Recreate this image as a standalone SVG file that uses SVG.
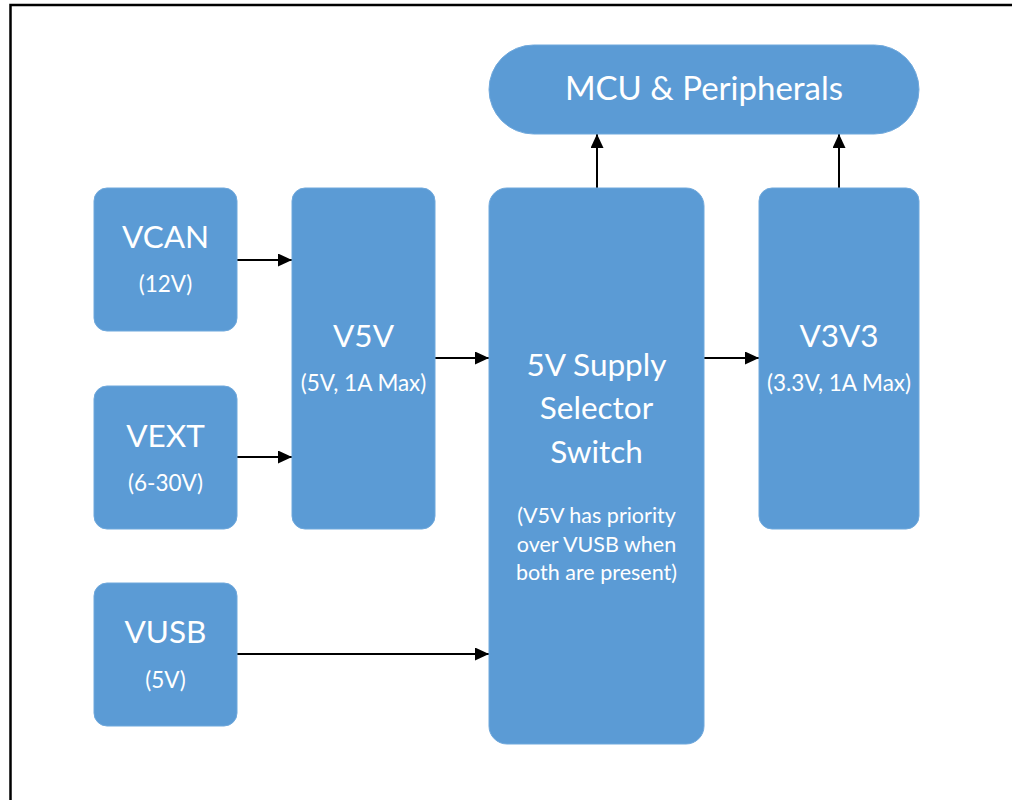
<svg xmlns="http://www.w3.org/2000/svg" width="1012" height="800" viewBox="0 0 1012 800">
<defs>
<marker id="ah" markerUnits="userSpaceOnUse" markerWidth="14" markerHeight="13" refX="14" refY="6.5" orient="auto">
<path d="M0,0 L14,6.5 L0,13 z" fill="#000"/>
</marker>
</defs>
<style>
.box{fill:#5B9BD5;stroke:#6FA8DC;stroke-width:1}
.t{font-family:Lato,"Open Sans",sans-serif;fill:#fff;text-anchor:middle}
.big{font-size:31.5px}
.mcu{font-size:33px}
.sm{font-size:22.5px}
.pr{font-size:21.5px}
.c{stroke:#000;stroke-width:2;fill:none;marker-end:url(#ah)}
</style>
<rect width="1012" height="800" fill="#fff"/>
<path d="M10.5,800 V5 H1012" fill="none" stroke="#000" stroke-width="2.5"/>
<g id="connectors">
<line class="c" x1="237" y1="260" x2="292" y2="260"/>
<line class="c" x1="237" y1="457" x2="292" y2="457"/>
<line class="c" x1="435" y1="358" x2="489" y2="358"/>
<line class="c" x1="237" y1="654" x2="489" y2="654"/>
<line class="c" x1="704" y1="358" x2="759" y2="358"/>
<line class="c" x1="597" y1="188" x2="597" y2="134"/>
<line class="c" x1="839" y1="188" x2="839" y2="134"/>
</g>
<g id="mcu">
<rect class="box" x="489" y="45" width="430" height="89" rx="44.5"/>
<text class="t mcu" x="704" y="100">MCU &amp; Peripherals</text>
</g>
<g id="vcan">
<rect class="box" x="94" y="188" width="143" height="143" rx="13"/>
<text class="t big" x="165.5" y="248">VCAN</text>
<text class="t sm" x="165.5" y="292">(12V)</text>
</g>
<g id="vext">
<rect class="box" x="94" y="386" width="143" height="143" rx="13"/>
<text class="t big" x="165.5" y="447">VEXT</text>
<text class="t sm" x="165.5" y="491">(6-30V)</text>
</g>
<g id="vusb">
<rect class="box" x="94" y="583" width="143" height="143" rx="13"/>
<text class="t big" x="165.5" y="643">VUSB</text>
<text class="t sm" x="165.5" y="688">(5V)</text>
</g>
<g id="v5v">
<rect class="box" x="292" y="188" width="143" height="341" rx="13"/>
<text class="t big" x="363.5" y="347">V5V</text>
<text class="t sm" x="363.5" y="391">(5V, 1A Max)</text>
</g>
<g id="switch">
<rect class="box" x="489" y="188" width="215" height="556" rx="18"/>
<text class="t big" x="596.5" y="376">5V Supply</text>
<text class="t big" x="596.5" y="419">Selector</text>
<text class="t big" x="596.5" y="463">Switch</text>
<text class="t pr" x="596.5" y="523">(V5V has priority</text>
<text class="t pr" x="596.5" y="552">over VUSB when</text>
<text class="t pr" x="596.5" y="580">both are present)</text>
</g>
<g id="v3v3">
<rect class="box" x="759" y="188" width="160" height="341" rx="13"/>
<text class="t big" x="839" y="347">V3V3</text>
<text class="t sm" x="839" y="391">(3.3V, 1A Max)</text>
</g>
</svg>
